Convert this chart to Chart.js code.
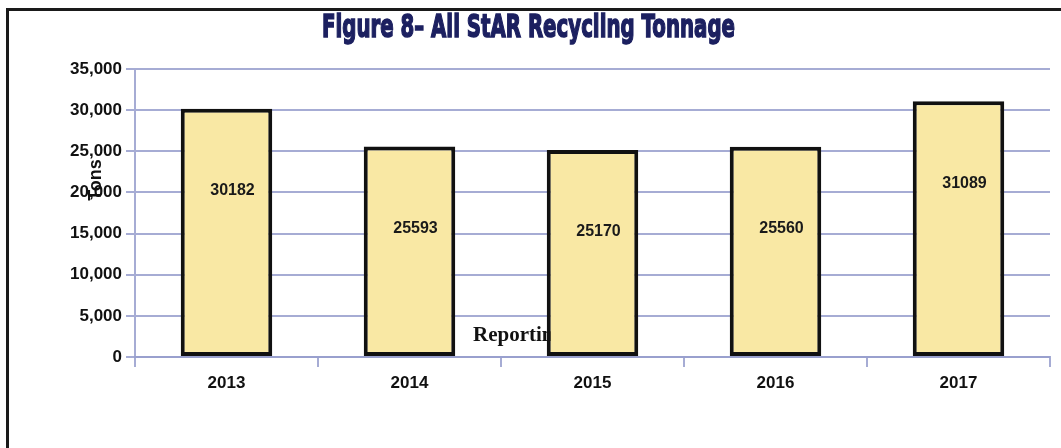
<!DOCTYPE html>
<html>
<head>
<meta charset="utf-8">
<title>Figure 8 – All StAR Recycling Tonnage</title>
<script src="https://cdn.jsdelivr.net/npm/chart.js@4/dist/chart.umd.min.js"></script>
<style>
  html, body { margin: 0; padding: 0; background: #fff; }
  #wrap { position: relative; width: 1061px; height: 448px; }
</style>
</head>
<body>
<div id="wrap"><canvas id="chart" width="1061" height="448"></canvas></div>
<script>
const years = ['2013', '2014', '2015', '2016', '2017'];
const tonnage = [30182, 25593, 25170, 25560, 31089];
const yMin = 0;
const yMax = 35000;
const yStep = 5000;

const gridBlue = 'rgba(150, 158, 205, 0.85)';

// frame, title, axis titles and the in-bar labels
const decorations = {
    id: 'decorations',
    beforeDraw(chart) {
        const ctx = chart.ctx;
        ctx.save();
        ctx.fillStyle = '#fff';
        ctx.fillRect(0, 0, chart.width, chart.height);
        ctx.strokeStyle = '#1a1a1a';
        ctx.lineWidth = 3;
        ctx.beginPath();
        ctx.moveTo(7.5, chart.height);
        ctx.lineTo(7.5, 9.5);
        ctx.lineTo(chart.width, 9.5);
        ctx.stroke();

        // title, squeezed to look like the condensed original
        const title = 'Figure 8\u2013 All StAR Recycling Tonnage';
        ctx.font = 'bold 32px "DejaVu Sans"';
        const w = ctx.measureText(title).width;
        const sx = 413 / w;
        ctx.translate(322, 0);
        ctx.scale(sx, 1);
        ctx.fillStyle = '#1c2060';
        ctx.strokeStyle = '#1c2060';
        ctx.lineWidth = 1.6;
        ctx.textBaseline = 'alphabetic';
        ctx.textAlign = 'left';
        ctx.fillText(title, 0, 37);
        ctx.strokeText(title, 0, 37);
        ctx.restore();
    },
    beforeDatasetsDraw(chart) {
        const ctx = chart.ctx;
        ctx.save();
        ctx.font = 'bold 21px "Liberation Serif"';
        ctx.fillStyle = '#111';
        ctx.textBaseline = 'middle';
        ctx.textAlign = 'left';
        ctx.fillText('Reporting Year', 473, 336);
        ctx.restore();
    },
    afterDatasetsDraw(chart) {
        const ctx = chart.ctx;
        ctx.save();
        ctx.font = 'bold 16px "Liberation Sans"';
        ctx.fillStyle = '#1a1a1a';
        ctx.textAlign = 'center';
        ctx.textBaseline = 'middle';
        chart.getDatasetMeta(0).data.forEach((bar, i) => {
            ctx.fillText(String(tonnage[i]), bar.x + 6, bar.y + 82);
        });

        ctx.translate(96, 180);
        ctx.rotate(-Math.PI / 2);
        ctx.font = 'bold 18px "Liberation Sans"';
        ctx.fillStyle = '#111';
        ctx.fillText('Tons', 0, 0);
        ctx.restore();
    }
};

new Chart(document.getElementById('chart'), {
    type: 'bar',
    data: {
        labels: years,
        datasets: [{
            data: tonnage,
            backgroundColor: '#f9e8a4',
            borderColor: '#111',
            borderWidth: 4,
            borderSkipped: false,
            categoryPercentage: 1,
            barPercentage: 0.5
        }]
    },
    options: {
        responsive: false,
        animation: false,
        layout: { padding: { top: 69, right: 11, left: 0, bottom: 0 } },
        plugins: {
            legend: { display: false },
            title: { display: false },
            tooltip: { enabled: false }
        },
        scales: {
            x: {
                grid: { drawOnChartArea: false, drawTicks: true, tickLength: 10, color: gridBlue, lineWidth: 2 },
                border: { color: gridBlue, width: 2 },
                ticks: { color: '#111', padding: 6, font: { family: 'Liberation Sans', size: 17, weight: 'bold' } },
                afterFit(scale) { scale.height = 91; }
            },
            y: {
                min: yMin,
                max: yMax,
                grid: { color: gridBlue, lineWidth: 2, tickLength: 9 },
                border: { color: gridBlue, width: 2 },
                ticks: {
                    stepSize: yStep,
                    color: '#111',
                    padding: 4,
                    font: { family: 'Liberation Sans', size: 17, weight: 'bold' },
                    callback: v => v.toLocaleString('en-US')
                },
                afterFit(scale) { scale.width = 135; }
            }
        }
    },
    plugins: [decorations]
});
</script>
</body>
</html>
